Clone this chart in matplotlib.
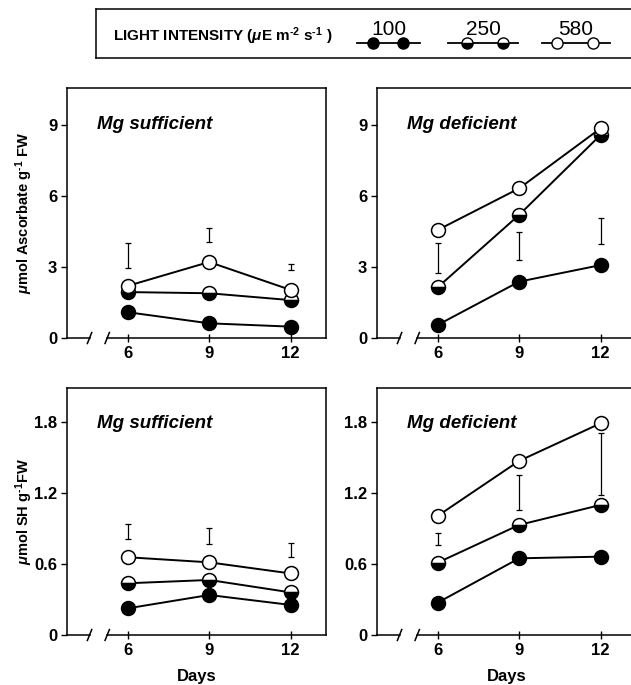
import matplotlib
matplotlib.use('Agg')
import matplotlib.pyplot as plt
import matplotlib.transforms as mtransforms
import numpy as np

plt.rcParams['font.family'] = ['Liberation Sans', 'DejaVu Sans']
plt.rcParams['font.weight'] = 'bold'
plt.rcParams['mathtext.fontset'] = 'custom'
plt.rcParams['mathtext.rm'] = 'Liberation Sans:bold'
plt.rcParams['mathtext.it'] = 'Liberation Sans:italic:bold'
plt.rcParams['mathtext.bf'] = 'Liberation Sans:bold'

# Data
days = [6, 9, 12]
intensities = ['100', '250', '580']

asc_suff = {'100': [1.09, 0.62, 0.48],
            '250': [1.94, 1.89, 1.60],
            '580': [2.20, 3.21, 2.03]}
asc_suff_err_lo = [2.94, 4.04, 2.87]
asc_suff_err_hi = [4.03, 4.63, 3.11]

asc_def = {'100': [0.55, 2.38, 3.08],
           '250': [2.14, 5.20, 8.58],
           '580': [4.56, 6.32, 8.86]}
asc_def_err_lo = [2.76, 3.30, 3.98]
asc_def_err_hi = [4.00, 4.49, 5.06]

sh_suff = {'100': [0.225, 0.338, 0.254],
           '250': [0.437, 0.465, 0.360],
           '580': [0.657, 0.614, 0.520]}
sh_suff_err_lo = [0.81, 0.766, 0.662]
sh_suff_err_hi = [0.938, 0.907, 0.775]

sh_def = {'100': [0.273, 0.648, 0.662],
          '250': [0.611, 0.930, 1.099],
          '580': [1.006, 1.471, 1.789]}
sh_def_err_lo = [0.76, 1.057, 1.183]
sh_def_err_hi = [0.865, 1.352, 1.705]

marker_style = {
    '100': dict(markerfacecolor='black', fillstyle='full'),
    '250': dict(markerfacecolor='black', fillstyle='bottom', markerfacecoloralt='white'),
    '580': dict(markerfacecolor='white', fillstyle='full'),
}

W, H = 631, 685
fig = plt.figure(figsize=(W / 100, H / 100), dpi=100)


def px_axes(left, top, right, bottom):
    return fig.add_axes([left / W, 1 - bottom / H, (right - left) / W, (bottom - top) / H])


def panel(ax, series, err_lo, err_hi, ymax, yticks, yticklabels, title, ylabel=None, xlabel=None):
    for key in ['100', '250', '580']:
        ax.plot(days, series[key], color='black', lw=1.4, marker='o', markersize=10,
                markeredgecolor='black', markeredgewidth=1.1, zorder=3, **marker_style[key])
    lo = np.array(err_lo)
    hi = np.array(err_hi)
    ax.errorbar(days, (lo + hi) / 2, yerr=(hi - lo) / 2, fmt='none', ecolor='black',
                elinewidth=0.9, capsize=2, capthick=0.9)
    ax.set_xlim(3.77, 13.3)
    ax.set_ylim(0, ymax)
    ax.set_xticks(days)
    ax.set_xticklabels([str(d) for d in days], fontsize=12, fontweight='bold')
    ax.set_yticks(yticks)
    ax.set_yticklabels(yticklabels, fontsize=12, fontweight='bold')
    ax.tick_params(axis='y', direction='out', length=4, width=1, pad=3)
    ax.tick_params(axis='x', direction='inout', length=6, width=1, pad=3)
    for s in ['left', 'top', 'right']:
        ax.spines[s].set_linewidth(1.1)
    ax.spines['bottom'].set_visible(False)
    # broken x axis
    tr = mtransforms.blended_transform_factory(ax.transData, ax.transAxes)
    ax.plot([3.77, 4.6], [0, 0], color='black', lw=1.1, transform=tr, clip_on=False)
    ax.plot([5.25, 13.3], [0, 0], color='black', lw=1.1, transform=tr, clip_on=False)
    for bx in [4.6, 5.25]:
        ax.plot([bx - 0.08, bx + 0.08], [-0.022, 0.022], color='black', lw=1.1,
                transform=tr, clip_on=False)
    ax.text(0.115, 0.855, title, transform=ax.transAxes, fontsize=13.5,
            fontweight='bold', style='italic', ha='left', va='center')
    if ylabel:
        ax.set_ylabel(ylabel, fontsize=10.5, fontweight='bold', labelpad=6)
    if xlabel:
        ax.set_xlabel(xlabel, fontsize=12, fontweight='bold', labelpad=8)


ax1 = px_axes(67, 88, 326, 338)
ax2 = px_axes(377, 88, 636, 338)
ax3 = px_axes(67, 388, 326, 635)
ax4 = px_axes(377, 388, 636, 635)

panel(ax1, asc_suff, asc_suff_err_lo, asc_suff_err_hi, 10.56, [0, 3, 6, 9],
      ['0', '3', '6', '9'], 'Mg sufficient',
      ylabel=r'$\mu$mol Ascorbate g$^{\text{-}1}$ FW')
panel(ax2, asc_def, asc_def_err_lo, asc_def_err_hi, 10.56, [0, 3, 6, 9],
      ['0', '3', '6', '9'], 'Mg deficient')
panel(ax3, sh_suff, sh_suff_err_lo, sh_suff_err_hi, 2.087, [0, 0.6, 1.2, 1.8],
      ['0', '0.6', '1.2', '1.8'], 'Mg sufficient',
      ylabel=r'$\mu$mol SH g$^{\text{-}1}$FW', xlabel='Days')
panel(ax4, sh_def, sh_def_err_lo, sh_def_err_hi, 2.087, [0, 0.6, 1.2, 1.8],
      ['0', '0.6', '1.2', '1.8'], 'Mg deficient', xlabel='Days')

for ax in (ax1, ax3):
    ax.yaxis.set_label_coords(-0.125, 0.5)

# legend box (pixel coordinates inside)
lg = px_axes(96, 9, 645, 58)
lg.set_xlim(96, 645)
lg.set_ylim(58, 9)
lg.set_xticks([])
lg.set_yticks([])
lg.spines['right'].set_visible(False)
for s in ['left', 'top', 'bottom']:
    lg.spines[s].set_linewidth(1.1)
lg.text(113, 36, r'LIGHT INTENSITY ($\mu$E m$^{\text{-}2}$ s$^{\text{-}1}$ )', fontsize=11,
        fontweight='bold', ha='left', va='center')
leg_x = {'100': (357, 420, 373, 403), '250': (448, 518, 467, 503), '580': (542, 610, 557, 593)}
for key in intensities:
    x0, x1, m0, m1 = leg_x[key]
    lg.plot([x0, x1], [43, 43], color='black', lw=1.3)
    lg.plot([m0, m1], [43, 43], ls='none', marker='o', markersize=8,
            markeredgecolor='black', markeredgewidth=1.0, **marker_style[key])
    lg.text((x0 + x1) / 2, 35, key, fontsize=15, fontweight='normal', ha='center', va='baseline')

fig.savefig('out.png', dpi=100)
